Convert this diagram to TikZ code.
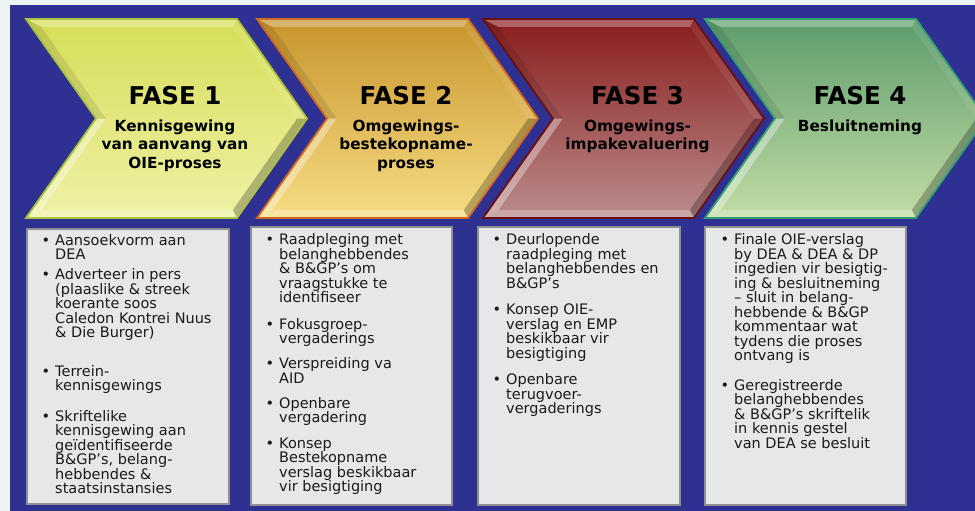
\documentclass[tikz,border=0pt]{standalone}
\usepackage{fontspec}
\setmainfont{DejaVu Sans}
\definecolor{bgblue}{HTML}{2E3192}
\definecolor{margin}{HTML}{EDF3F2}
\definecolor{boxfill}{HTML}{E6E7E9}
\definecolor{boxline}{HTML}{8F8F8F}
\definecolor{txt}{HTML}{1A1A1A}
\definecolor{cAo}{HTML}{A9C23C}\definecolor{cAt}{HTML}{D6DE58}\definecolor{cAb}{HTML}{EFF1A6}
\definecolor{cBo}{HTML}{D2691E}\definecolor{cBt}{HTML}{C7952C}\definecolor{cBb}{HTML}{F7DD84}
\definecolor{cCo}{HTML}{6B1010}\definecolor{cCt}{HTML}{8A1D1D}\definecolor{cCb}{HTML}{BA8C8C}
\definecolor{cDo}{HTML}{33A072}\definecolor{cDt}{HTML}{5C9C6C}\definecolor{cDb}{HTML}{C3DCA5}
\newcommand\bul{\rule{0pt}{11.5pt}\llap{•\hspace{5pt}}}
\newcommand\sst{\rule{0pt}{12pt}}
\newcommand\mychev[4]{%
 \begin{scope}[shift={(#1,0)}]
  \path[top color=#3, bottom color=#4] (0,19) -- (211,19) -- (281,118.5) -- (211,218) -- (0,218) -- (70,118.5) -- cycle;
  \fill[white, opacity=.3] (0,19) -- (211,19) -- (206.8,27) -- (15.4,27) -- cycle;
  \fill[white, opacity=.08] (211,19) -- (281,118.5) -- (271.2,118.5) -- (206.8,27) -- cycle;
  \fill[black, opacity=.25] (281,118.5) -- (211,218) -- (206.8,210) -- (271.2,118.5) -- cycle;
  \fill[white, opacity=.25] (211,218) -- (0,218) -- (15.4,210) -- (206.8,210) -- cycle;
  \fill[white, opacity=.35] (0,218) -- (70,118.5) -- (79.8,118.5) -- (15.4,210) -- cycle;
  \fill[black, opacity=.1] (70,118.5) -- (0,19) -- (15.4,27) -- (79.8,118.5) -- cycle;
  \draw[#2, line width=1.8pt, line join=miter] (0,19) -- (211,19) -- (281,118.5) -- (211,218) -- (0,218) -- (70,118.5) -- cycle;
 \end{scope}}
\tikzset{
 fase/.style={font=\bfseries\fontsize{24.5}{26}\selectfont, text=black, inner sep=0pt},
 sub/.style={font=\bfseries\fontsize{15.3}{18.5}\selectfont, text=black, align=center, inner sep=0pt, anchor=north},
 item/.style={font=\fontsize{14.5}{14.5}\selectfont, text=txt, align=left, inner sep=0pt, anchor=north west},
 panel/.style={fill=boxfill, draw=boxline, line width=2.5pt}
}
\begin{document}
\begin{tikzpicture}[x=1pt,y=-1pt]
\clip (0,0) rectangle (975,511);
\fill[margin] (0,0) rectangle (975,511);
\fill[bgblue] (10,5) rectangle (975,511);
% chevrons
\mychev{705}{cDo}{cDt}{cDb}
\mychev{483}{cCo}{cCt}{cCb}
\mychev{257}{cBo}{cBt}{cBb}
\mychev{26}{cAo}{cAt}{cAb}
% titles
\node[fase] (f1) at (175,96) {FASE 1};
\node[fase] (f2) at (406,96) {FASE 2};
\node[fase] (f3) at (637.5,96) {FASE 3};
\node[fase] (f4) at (860,96) {FASE 4};
\node[sub] (s1) at (175,119) {\sst Kennisgewing\\van aanvang van\\OIE-proses};
\node[sub] (s2) at (406,119) {\sst Omgewings-\\bestekopname-\\proses};
\node[sub] (s3) at (637.5,119) {\sst Omgewings-\\impakevaluering};
\node[sub] (s4) at (860,119) {\sst Besluitneming};
% panels
\path[panel] (27.2,229.2) rectangle (228.8,503.8);
\path[panel] (251.2,227.2) rectangle (451.8,504.8);
\path[panel] (478.2,227.2) rectangle (679.8,504.8);
\path[panel] (705.2,227.2) rectangle (905.8,504.8);
% box 1
\node[item] (a1) at (55,233.7) {\bul Aansoekvorm aan\\DEA};
\node[item] (a2) at (55,268) {\bul Adverteer in pers\\(plaaslike \& streek\\koerante soos\\Caledon Kontrei Nuus\\\& Die Burger)};
\node[item] (a3) at (55,364.7) {\bul Terrein-\\kennisgewings};
\node[item] (a4) at (55,409.7) {\bul Skriftelike\\kennisgewing aan\\geïdentifiseerde\\B\&GP’s, belang-\\hebbendes \&\\staatsinstansies};
% box 2
\node[item] (b1) at (279,233) {\bul Raadpleging met\\belanghebbendes\\\& B\&GP’s om\\vraagstukke te\\identifiseer};
\node[item] (b2) at (279,317.3) {\bul Fokusgroep-\\vergaderings};
\node[item] (b3) at (279,357) {\bul Verspreiding va\\AID};
\node[item] (b4) at (279,396.3) {\bul Openbare\\vergadering};
\node[item] (b5) at (279,436.3) {\bul Konsep\\Bestekopname\\verslag beskikbaar\\vir besigtiging};
% box 3
\node[item] (c1) at (506,233) {\bul Deurlopende\\raadpleging met\\belanghebbendes en\\B\&GP’s};
\node[item] (c2) at (506,303) {\bul Konsep OIE-\\verslag en EMP\\beskikbaar vir\\besigtiging};
\node[item] (c3) at (506,373) {\bul Openbare\\terugvoer-\\vergaderings};
% box 4
\node[item] (d1) at (734,233) {\bul Finale OIE-verslag\\by DEA \& DEA \& DP\\ingedien vir besigtig-\\ing \& besluitneming\\– sluit in belang-\\hebbende \& B\&GP\\kommentaar wat\\tydens die proses\\ontvang is};
\node[item] (d2) at (734,378.7) {\bul Geregistreerde\\belanghebbendes\\\& B\&GP’s skriftelik\\in kennis gestel\\van DEA se besluit};
\end{tikzpicture}
\end{document}
